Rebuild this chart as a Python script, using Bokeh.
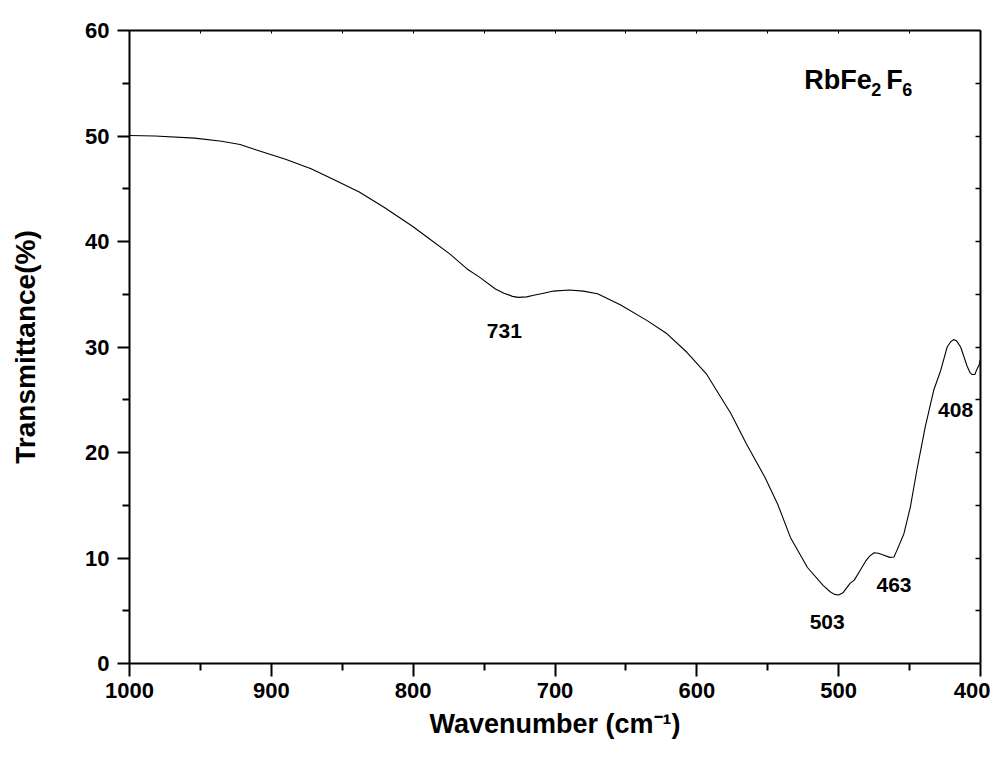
from bokeh.plotting import figure
from bokeh.models import Range1d, LinearAxis, FixedTicker, Label, CustomJSTickFormatter, ColumnDataSource
from bokeh.embed import file_html
from bokeh.resources import INLINE

# ---- data ----
wavenumber = [1000, 982, 954, 935, 922, 911, 890, 872, 855, 838, 820, 800, 791, 774, 762, 753,
              742, 736, 730, 726, 720, 715, 708, 701, 690, 680, 670, 654, 635, 621, 607, 593,
              576, 565, 552, 543, 534, 522, 511, 506, 503, 500, 497, 492, 489, 485, 481, 478,
              475, 472, 469, 464, 461, 459, 454, 449.5, 444.5, 439, 433, 428, 423.5, 421, 419,
              417, 414, 411.5, 409.5, 407.5, 406, 404, 402.5, 401, 400]
transmittance = [50.05, 50.0, 49.8, 49.5, 49.2, 48.7, 47.8, 46.9, 45.8, 44.7, 43.2, 41.4, 40.5,
                 38.8, 37.4, 36.6, 35.5, 35.1, 34.8, 34.7, 34.75, 34.9, 35.1, 35.3, 35.4, 35.3,
                 35.05, 34.0, 32.5, 31.25, 29.5, 27.4, 23.7, 20.8, 17.65, 15.1, 11.95, 9.1, 7.4,
                 6.8, 6.55, 6.5, 6.7, 7.6, 7.9, 8.8, 9.7, 10.2, 10.5, 10.45, 10.3, 10.06, 10.1,
                 10.7, 12.3, 14.8, 18.6, 22.4, 25.9, 27.8, 30.0, 30.5, 30.7, 30.6, 30.0, 29.0,
                 28.2, 27.6, 27.4, 27.4, 27.9, 28.3, 28.8]

peak_labels = ["731", "503", "463", "408"]
peak_label_x = [735.7, 508.1, 461.0, 417.6]
peak_label_y = [31.5, 3.96, 7.47, 24.07]

x_major = [1000, 900, 800, 700, 600, 500, 400]
x_minor = [950, 850, 750, 650, 550, 450]
y_major = [0, 10, 20, 30, 40, 50, 60]
y_minor = [5, 15, 25, 35, 45, 55]
y_right = [5, 10, 15, 20, 25, 30, 35, 40, 45, 50, 55]

FONT = "Liberation Sans"

p = figure(width=990, height=750, output_backend="svg", toolbar_location=None,
           x_range=Range1d(1000, 400), y_range=Range1d(0, 60),
           min_border_left=129, min_border_right=10, min_border_top=30, min_border_bottom=87,
           x_axis_label="Wavenumber (cm\u207b\u00b9)", y_axis_label="Transmittance(%)")
p.background_fill_color = "white"
p.border_fill_color = "white"
p.outline_line_color = None
p.grid.visible = False

src = ColumnDataSource(dict(x=wavenumber, y=transmittance))
p.line("x", "y", source=src, line_color="black", line_width=1.1)

# bottom axis
xa = p.xaxis[0]
xa.ticker = FixedTicker(ticks=x_major, minor_ticks=x_minor)
xa.major_tick_out = 13
xa.major_tick_in = 0
xa.minor_tick_out = 7
xa.minor_tick_in = 0
xa.axis_line_width = 2
xa.major_tick_line_width = 2
xa.minor_tick_line_width = 2
xa.major_label_text_font = FONT
xa.major_label_text_font_style = "bold"
xa.major_label_text_font_size = "22px"
xa.major_label_text_color = "black"
xa.major_label_standoff = 6
xa.axis_label_text_font = FONT
xa.axis_label_text_font_style = "bold"
xa.axis_label_text_font_size = "27px"
xa.axis_label_text_color = "black"
xa.axis_label_standoff = 8

# left axis
ya = p.yaxis[0]
ya.ticker = FixedTicker(ticks=y_major, minor_ticks=y_minor)
ya.major_tick_out = 12
ya.major_tick_in = 0
ya.minor_tick_out = 7
ya.minor_tick_in = 0
ya.axis_line_width = 2
ya.major_tick_line_width = 2
ya.minor_tick_line_width = 2
ya.major_label_text_font = FONT
ya.major_label_text_font_style = "bold"
ya.major_label_text_font_size = "22px"
ya.major_label_text_color = "black"
ya.major_label_standoff = 8
ya.axis_label_text_font = FONT
ya.axis_label_text_font_style = "bold"
ya.axis_label_text_font_size = "28px"
ya.axis_label_text_color = "black"
ya.axis_label_standoff = 41

blank = CustomJSTickFormatter(code="return ''")

top = LinearAxis(ticker=FixedTicker(ticks=x_major, minor_ticks=x_minor), formatter=blank,
                 major_tick_in=3, major_tick_out=0, minor_tick_in=3, minor_tick_out=0,
                 axis_line_width=2, major_tick_line_width=1, minor_tick_line_width=1,
                 major_label_standoff=0)
p.add_layout(top, "above")

right = LinearAxis(ticker=FixedTicker(ticks=y_right, minor_ticks=[]), formatter=blank,
                   major_tick_in=5, major_tick_out=0, minor_tick_in=0, minor_tick_out=0,
                   axis_line_width=2, major_tick_line_width=1.5,
                   major_label_standoff=0)
p.add_layout(right, "right")

# peak annotations
for t, lx, ly in zip(peak_labels, peak_label_x, peak_label_y):
    p.add_layout(Label(x=lx, y=ly, text=t, text_align="center", text_baseline="middle",
                       text_font=FONT, text_font_style="bold", text_font_size="21px",
                       text_color="black"))

# compound name RbFe2F6 with subscripts
name_x, name_y = 524.3, 55.3
parts = [("RbFe", 0, 0, "27px"), ("2", 67, -9, "18px"), ("F", 82, 0, "27px"), ("6", 98, -9, "18px")]
for t, dx, dy, fs in parts:
    p.add_layout(Label(x=name_x, y=name_y, x_offset=dx, y_offset=dy, text=t,
                       text_align="left", text_baseline="alphabetic",
                       text_font=FONT, text_font_style="bold", text_font_size=fs,
                       text_color="black"))

open("out.html", "w").write(file_html(p, INLINE))
